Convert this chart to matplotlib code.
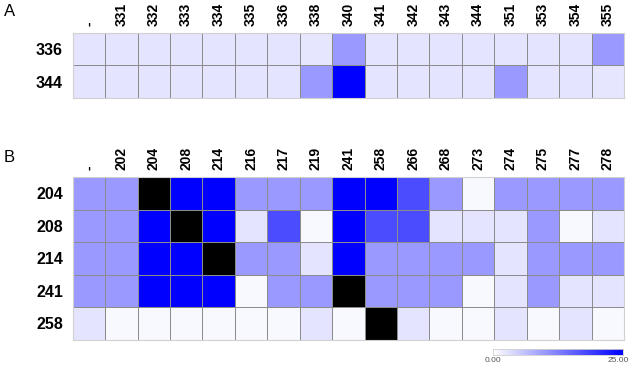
import matplotlib
matplotlib.use("Agg")
import matplotlib.pyplot as plt
import numpy as np
from matplotlib.colors import LinearSegmentedColormap

plt.rcParams["font.family"] = ["Liberation Sans", "DejaVu Sans"]

# =========================
# DATOS
# =========================

A_COLS = ["-", "331", "332", "333", "334", "335", "336", "338", "340",
          "341", "342", "343", "344", "351", "353", "354", "355"]
A_ROWS = ["336", "344"]
A_VALUES = [
    [2.7, 2.7, 2.7, 2.7, 2.7, 2.7, 2.7, 2.5, 10.0, 2.7, 2.7, 2.7, 2.7, 2.7, 2.7, 2.7, 10.0],
    [2.7, 2.7, 2.7, 2.7, 2.7, 2.7, 2.7, 10.0, 25.0, 2.7, 2.7, 2.7, 2.7, 10.0, 2.7, 2.7, 2.5],
]

B_COLS = ["-", "202", "204", "208", "214", "216", "217", "219", "241",
          "258", "266", "268", "273", "274", "275", "277", "278"]
B_ROWS = ["204", "208", "214", "241", "258"]
nan = np.nan
B_VALUES = [
    [10.0, 10.0, nan, 25.0, 25.0, 10.0, 10.0, 10.0, 25.0, 25.0, 17.5, 10.0, 0.7, 10.0, 10.0, 10.0, 10.0],
    [10.0, 10.0, 25.0, nan, 25.0, 2.7, 17.5, 0.7, 25.0, 17.5, 17.5, 2.7, 2.7, 2.7, 10.0, 0.7, 2.7],
    [10.0, 10.0, 25.0, 25.0, nan, 10.0, 10.0, 2.7, 25.0, 10.0, 10.0, 10.0, 10.0, 2.7, 10.0, 10.0, 10.0],
    [10.0, 10.0, 25.0, 25.0, 25.0, 0.7, 10.0, 10.0, nan, 10.0, 10.0, 10.0, 0.7, 2.7, 10.0, 2.7, 2.7],
    [2.7, 0.7, 0.7, 0.7, 0.7, 0.7, 0.7, 2.7, 0.7, nan, 2.7, 0.7, 0.7, 2.7, 0.7, 2.7, 0.7],
]

VMIN, VMAX = 0.0, 25.0

W, H = 630, 365

cmap = LinearSegmentedColormap.from_list("white_blue", ["#ffffff", "#0000ff"])
cmap.set_bad("black")


def px_axes(fig, x1, y1, x2, y2):
    return fig.add_axes([x1 / W, 1 - y2 / H, (x2 - x1) / W, (y2 - y1) / H])


def draw_panel(ax, values, rows, cols):
    data = np.ma.masked_invalid(np.array(values, dtype=float))
    ax.pcolormesh(data, cmap=cmap, vmin=VMIN, vmax=VMAX,
                  edgecolors="#8c8c8c", linewidth=0.5)
    ax.set_xlim(0, len(cols))
    ax.set_ylim(len(rows), 0)
    ax.set_xticks(np.arange(len(cols)) + 0.5)
    ax.set_xticklabels(cols, rotation=90, fontsize=10, fontweight="bold")
    ax.set_yticks(np.arange(len(rows)) + 0.5)
    ax.set_yticklabels(rows, fontsize=11.5, fontweight="bold")
    ax.xaxis.tick_top()
    ax.tick_params(length=0, pad=5)
    ax.tick_params(axis="y", pad=7)
    for s in ax.spines.values():
        s.set_color("#d0d0d0")
        s.set_linewidth(0.8)


fig = plt.figure(figsize=(W / 100, H / 100), dpi=100)

ax_a = px_axes(fig, 72.7, 32.5, 624, 98)
draw_panel(ax_a, A_VALUES, A_ROWS, A_COLS)

ax_b = px_axes(fig, 72.7, 177, 624, 339.5)
draw_panel(ax_b, B_VALUES, B_ROWS, B_COLS)

fig.text(4 / W, 1 - 12 / H, "A", fontsize=12, va="center", ha="left")
fig.text(4 / W, 1 - 157 / H, "B", fontsize=12, va="center", ha="left")

# barra de color
cax = px_axes(fig, 493, 349, 623, 355)
grad = np.linspace(VMIN, VMAX, 256).reshape(1, -1)
cax.imshow(grad, cmap=cmap, aspect="auto", vmin=VMIN, vmax=VMAX,
           extent=[VMIN, VMAX, 0, 1])
cax.set_xticks([])
cax.set_yticks([])
for s in cax.spines.values():
    s.set_color("#d0d0d0")
    s.set_linewidth(0.6)
fig.text(493 / W, 1 - 361 / H, f"{VMIN:.2f}", fontsize=6, color="#555555",
         ha="center", va="center")
fig.text(618 / W, 1 - 361 / H, f"{VMAX:.2f}", fontsize=6, color="#555555",
         ha="center", va="center")

fig.savefig("out.png", dpi=100)
